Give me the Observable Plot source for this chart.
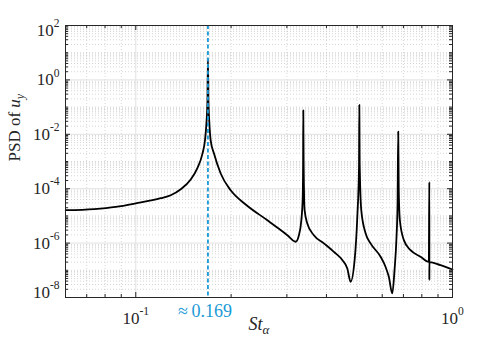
<!DOCTYPE html>
<html><head><meta charset="utf-8">
<script src="https://cdn.jsdelivr.net/npm/d3@7"></script>
<script src="https://cdn.jsdelivr.net/npm/@observablehq/plot@0.6"></script>
<style>html,body{margin:0;padding:0;background:#fff}#chart{width:499px;height:344px}</style>
</head><body><div id="chart"></div>
<script>
// Strouhal number St_alpha
const st = [0.0601, 0.0739, 0.0865, 0.1, 0.1199, 0.1289, 0.1387, 0.1491, 0.1565, 0.1624, 0.1654, 0.1671, 0.1684, 0.169, 0.1696, 0.1708, 0.1724, 0.1766, 0.1854, 0.1994, 0.2223, 0.2603, 0.2866, 0.3010, 0.3196, 0.3274, 0.3332, 0.3364, 0.3375, 0.338, 0.3388, 0.3413, 0.3480, 0.3650, 0.3926, 0.4221, 0.4488, 0.4655, 0.4767, 0.4909, 0.5006, 0.5068, 0.508, 0.5092, 0.5152, 0.5316, 0.5512, 0.5928, 0.6145, 0.6295, 0.6454, 0.6561, 0.6657, 0.6707, 0.674, 0.6765, 0.6821, 0.7022, 0.7372, 0.7925, 0.8418, 0.8450, 0.8452, 0.8454, 0.9165, 1.0];
// PSD of u_y
const psd = [1.62e-5, 1.78e-5, 2.14e-5, 2.88e-5, 4.47e-5, 5.75e-5, 9.55e-5, 2.19e-4, 5.75e-4, 1.95e-3, 6.03e-3, 2.45e-2, 0.178, 6.03, 0.178, 2.45e-2, 6.03e-3, 1.95e-3, 3.63e-4, 8.71e-5, 2.63e-5, 6.92e-6, 3.02e-6, 1.95e-6, 1.12e-6, 1.95e-6, 6.92e-6, 3.80e-5, 6.31e-4, 7.59e-2, 1.0e-3, 1.62e-5, 5.25e-6, 1.95e-6, 9.77e-7, 4.79e-7, 2.40e-7, 1.17e-7, 3.80e-8, 2.40e-7, 9.33e-6, 6.31e-4, 0.120, 1.0e-3, 1.62e-5, 2.29e-6, 9.77e-7, 3.16e-7, 1.35e-7, 5.75e-8, 1.41e-8, 1.02e-7, 1.70e-6, 2.88e-5, 1.26e-2, 1.0e-4, 6.92e-6, 1.29e-6, 5.50e-7, 3.16e-7, 2.04e-7, 1.78e-4, 4.37e-8, 2.0e-7, 1.55e-7, 1.07e-7];

const peakSt = 0.169;
const peakLabel = "≈\u20090.169";
const xTickValues = [0.1, 1];
const xTickLabels = ["10^-1", "10^0"];
const yTickValues = [1e-8, 1e-6, 1e-4, 1e-2, 1, 1e2];
const yTickLabels = ["10^-8", "10^-6", "10^-4", "10^-2", "10^0", "10^2"];
const xLabel = "St_α";
const yLabel = "PSD of u_y";
const xDomain = [0.06, 1];
const yDomain = [1e-8, 1e2];

const W = 499, H = 344, mL = 65, mR = 47, mT = 25, mB = 47;
const innerH = H - mT - mB, innerW = W - mL - mR;

// minor tick positions (tick generation, not data)
const xMinor = [];
for (let k = -2; k <= -1; k++) for (let m = 1; m <= 9; m++) {
  const v = +(m * Math.pow(10, k)).toPrecision(6);
  if (v >= xDomain[0] - 1e-12 && v <= xDomain[1] && !xTickValues.some(t => Math.abs(t - v) < 1e-12)) xMinor.push(v);
}
const yMinor = [];
for (let k = -8; k <= 1; k++) for (let m = 1; m <= 9; m++) {
  const v = m * Math.pow(10, k);
  if (!(m === 1 && yTickValues.some(t => Math.abs(Math.log10(t) - k) < 1e-9))) yMinor.push(v);
}

const data = st.map((s, i) => ({st: s, psd: psd[i]}));
const blue = "#1a9ad6";
const gridMajor = "#e2e2e2";
const gridMinor = "#c4c4c4";
const axisColor = "#262626";
const font = "Liberation Serif";

const chart = Plot.plot({
  width: W, height: H,
  marginLeft: mL, marginRight: mR, marginTop: mT, marginBottom: mB,
  style: {fontFamily: font, fontSize: "16px", background: "#fff", color: axisColor},
  x: {type: "log", domain: xDomain},
  y: {type: "log", domain: yDomain},
  marks: [
    Plot.ruleY(yMinor, {y: d => d, stroke: gridMinor, strokeWidth: 0.7, strokeDasharray: "1,2"}),
    Plot.ruleX(xMinor, {x: d => d, stroke: gridMinor, strokeWidth: 0.7, strokeDasharray: "1,2"}),
    Plot.ruleY(yTickValues, {y: d => d, stroke: gridMajor, strokeWidth: 1}),
    Plot.ruleX(xTickValues, {x: d => d, stroke: gridMajor, strokeWidth: 1}),
    Plot.line(data, {x: "st", y: "psd", stroke: "#000", strokeWidth: 1.8, strokeLinejoin: "round", curve: "monotone-x"}),
    Plot.ruleX([peakSt], {x: d => d, stroke: blue, strokeWidth: 1.8, strokeDasharray: "4,2.5"}),
    // inward ticks
    Plot.tickX(xTickValues, {x: d => d, stroke: axisColor, insetTop: innerH - 5}),
    Plot.tickX(xTickValues, {x: d => d, stroke: axisColor, insetBottom: innerH - 5}),
    Plot.tickX(xMinor, {x: d => d, stroke: axisColor, insetTop: innerH - 3}),
    Plot.tickX(xMinor, {x: d => d, stroke: axisColor, insetBottom: innerH - 3}),
    Plot.tickY(yTickValues, {y: d => d, stroke: axisColor, insetRight: innerW - 5}),
    Plot.tickY(yTickValues, {y: d => d, stroke: axisColor, insetLeft: innerW - 5}),
    Plot.tickY(yMinor, {y: d => d, stroke: axisColor, insetRight: innerW - 3}),
    Plot.tickY(yMinor, {y: d => d, stroke: axisColor, insetLeft: innerW - 3}),
    Plot.frame({stroke: axisColor, strokeWidth: 1}),
    Plot.axisX(xTickValues, {tickSize: 0, tickPadding: 14, fontSize: 17, fontFamily: font, fill: axisColor, label: null,
      tickFormat: d => xTickLabels[xTickValues.findIndex(t => Math.abs(t - d) < 1e-12)]}),
    Plot.axisY(yTickValues, {tickSize: 0, tickPadding: 6, fontSize: 17, fontFamily: font, fill: axisColor, label: null,
      tickFormat: d => yTickLabels[yTickValues.findIndex(t => Math.abs(Math.log10(t) - Math.log10(d)) < 1e-9)]}),
    Plot.text([peakLabel], {x: () => peakSt, frameAnchor: "bottom", text: d => d, dy: 19, fill: blue, fontSize: 18, fontFamily: font, dx: -3}),
    Plot.text([xLabel], {frameAnchor: "bottom", text: d => d, dy: 32, fontSize: 18, fontFamily: font, fill: axisColor}),
    Plot.text([yLabel], {frameAnchor: "left", text: d => d, dx: -51, rotate: -90, fontSize: 17, fontFamily: font, fill: axisColor})
  ]
});

// rich text: superscripts and subscripts; edge y labels nudged inside like the original
const edgeNudge = {"10^2": 5, "10^-8": -5};
d3.select(chart).selectAll("text").each(function() {
  const t = this.textContent;
  const sel = d3.select(this);
  sel.attr("font-family", font);
  let m;
  if ((m = /^10\^(-?\d+)$/.exec(t))) {
    const isY = this.closest("g[aria-label='y-axis tick label']") !== null;
    sel.text(null);
    const base = sel.append("tspan").text("10");
    if (isY && edgeNudge[t]) base.attr("dy", edgeNudge[t]);
    sel.append("tspan").attr("dy", "-0.75em").attr("font-size", "0.68em").text(m[1]);
  } else if (t === xLabel) {
    sel.text(null);
    sel.append("tspan").attr("font-style", "italic").text("St");
    sel.append("tspan").attr("font-style", "italic").attr("dy", "0.35em").attr("font-size", "0.72em").text("α");
  } else if (t === yLabel) {
    sel.text(null);
    sel.append("tspan").text("PSD of ");
    sel.append("tspan").attr("font-style", "italic").text("u");
    sel.append("tspan").attr("font-style", "italic").attr("dy", "0.3em").attr("font-size", "0.7em").text("y");
  }
});
document.getElementById("chart").append(chart);
</script>
</body></html>
